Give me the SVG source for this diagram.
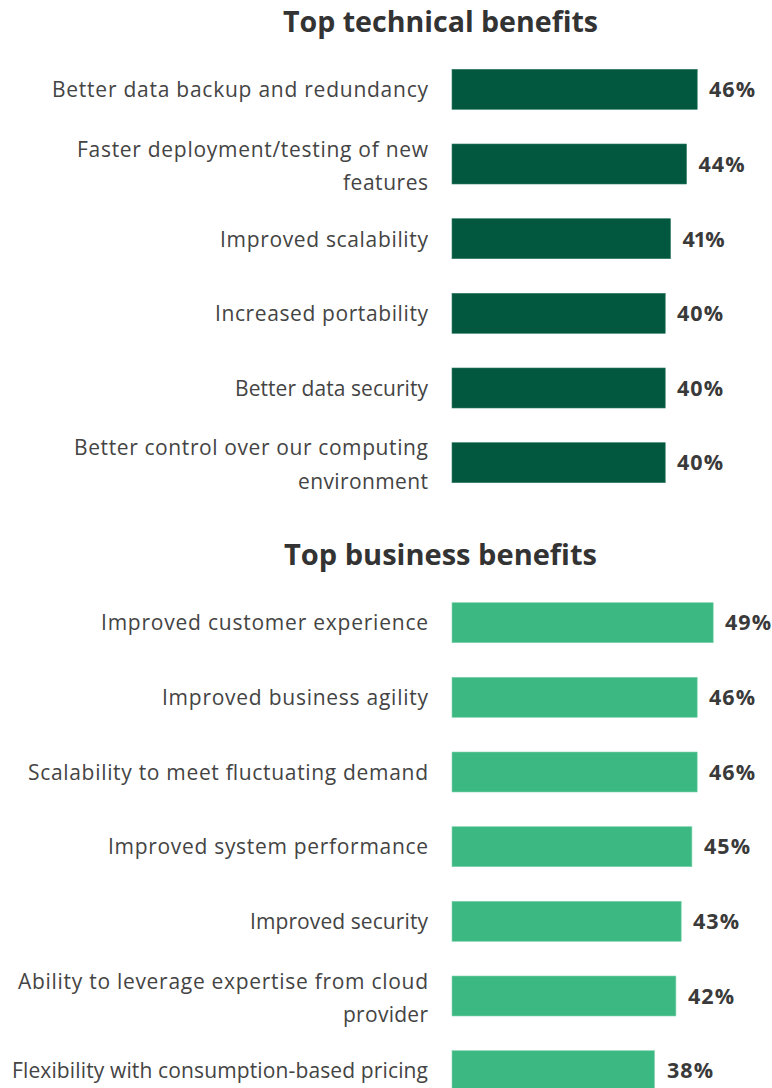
<svg xmlns="http://www.w3.org/2000/svg" width="772" height="1088" viewBox="0 0 772 1088">
<style>
.title{font-family:"Open Sans",Lato,sans-serif;font-weight:700;font-size:29px;fill:#333;text-anchor:middle}
.lbl{font-family:"Open Sans",Lato,sans-serif;font-size:21px;fill:#444;text-anchor:end}
.val{font-family:"Open Sans",Lato,sans-serif;font-weight:700;font-size:21.5px;fill:#3a3a3a}
.dk{fill:#02573f;stroke:#2f7a63;stroke-width:0.6}
.lt{fill:#3cb982;stroke:#7fd3ad;stroke-width:0.6}
</style>
<rect width="772" height="1088" fill="#fff"/>
<text class="title" x="440.5" y="32" textLength="315" lengthAdjust="spacingAndGlyphs">Top technical benefits</text>
<g id="t1"><text class="lbl" x="428" y="97" textLength="376">Better data backup and redundancy</text><rect class="dk" x="452" y="69.3" width="245.2" height="40"/><text class="val" x="709" y="97" textLength="46">46%</text></g>
<g id="t2"><text class="lbl" x="428" y="156.5" textLength="351">Faster deployment/testing of new</text><text class="lbl" x="428" y="190" textLength="85">features</text><rect class="dk" x="452" y="144" width="234.5" height="40"/><text class="val" x="698.5" y="171.5" textLength="46">44%</text></g>
<g id="t3"><text class="lbl" x="428" y="246.5" textLength="208">Improved scalability</text><rect class="dk" x="452" y="218.7" width="218.5" height="40"/><text class="val" x="682.5" y="246.5" textLength="42">41%</text></g>
<g id="t4"><text class="lbl" x="428" y="321" textLength="213">Increased portability</text><rect class="dk" x="452" y="293.3" width="213.2" height="40"/><text class="val" x="677" y="321" textLength="46">40%</text></g>
<g id="t5"><text class="lbl" x="428" y="395.5" textLength="193">Better data security</text><rect class="dk" x="452" y="368" width="213.2" height="40"/><text class="val" x="677" y="395.5" textLength="46">40%</text></g>
<g id="t6"><text class="lbl" x="428" y="455" textLength="354">Better control over our computing</text><text class="lbl" x="428" y="488.5" textLength="130">environment</text><rect class="dk" x="452" y="442.7" width="213.2" height="40"/><text class="val" x="677" y="470" textLength="46">40%</text></g>
<text class="title" x="440.5" y="565" textLength="313" lengthAdjust="spacingAndGlyphs">Top business benefits</text>
<g id="b1"><text class="lbl" x="428" y="630" textLength="327">Improved customer experience</text><rect class="lt" x="452" y="602.7" width="261.2" height="40"/><text class="val" x="725" y="630" textLength="46">49%</text></g>
<g id="b2"><text class="lbl" x="428" y="705" textLength="266">Improved business agility</text><rect class="lt" x="452" y="677.3" width="245.2" height="40"/><text class="val" x="709" y="705" textLength="46">46%</text></g>
<g id="b3"><text class="lbl" x="428" y="779.5" textLength="400">Scalability to meet fluctuating demand</text><rect class="lt" x="452" y="752" width="245.2" height="40"/><text class="val" x="709" y="779.5" textLength="46">46%</text></g>
<g id="b4"><text class="lbl" x="428" y="854" textLength="320">Improved system performance</text><rect class="lt" x="452" y="826.7" width="239.9" height="40"/><text class="val" x="704" y="854" textLength="46">45%</text></g>
<g id="b5"><text class="lbl" x="428" y="929" textLength="178">Improved security</text><rect class="lt" x="452" y="901.3" width="229.2" height="40"/><text class="val" x="693" y="929" textLength="46">43%</text></g>
<g id="b6"><text class="lbl" x="428" y="988.5" textLength="410">Ability to leverage expertise from cloud</text><text class="lbl" x="428" y="1022" textLength="85">provider</text><rect class="lt" x="452" y="976" width="223.9" height="40"/><text class="val" x="688" y="1003.5" textLength="46">42%</text></g>
<g id="b7"><text class="lbl" x="428" y="1078" textLength="416">Flexibility with consumption-based pricing</text><rect class="lt" x="452" y="1050.7" width="202.5" height="40"/><text class="val" x="667" y="1078" textLength="46">38%</text></g>
</svg>
